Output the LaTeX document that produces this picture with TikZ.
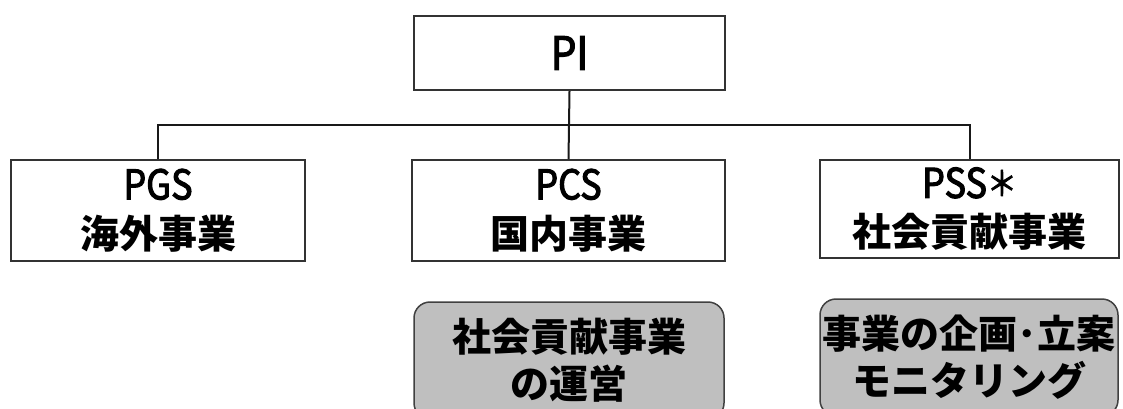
\documentclass[tikz,border=0pt]{standalone}
\usepackage{fontspec}
\newfontfamily\jpfont{Noto Sans CJK JP}
\newfontfamily\latfont[FakeStretch=0.88,FakeBold=2.5]{Noto Sans CJK JP}
\newcommand\latx[2][41pt]{{\latfont\fontsize{#1}{48pt}\selectfont #2}}
\newcommand\jpx[2][39pt]{{\jpfont\bfseries\fontsize{#1}{48pt}\selectfont #2}}
\newcommand\astx{{\latfont\fontsize{34pt}{48pt}\selectfont\raisebox{2pt}{＊}}}
\begin{document}
\begin{tikzpicture}[x=1pt,y=-1pt,
  box/.style={draw=black!80, line width=2pt, fill=white, inner sep=0pt, align=center, font=\fontsize{39pt}{49pt}\selectfont},
  graybox/.style={draw=black!75, line width=1.5pt, fill=black!25, rounded corners=16pt, inner sep=0pt, align=center, font=\fontsize{39pt}{47pt}\selectfont},
  conn/.style={draw=black!90, line width=2pt}]
\useasboundingbox (0,0) rectangle (1123,408);
\node[box, minimum width=311pt, minimum height=74pt] (pi) at (569.5,53) {\latx[46pt]{PI}};
\node[box, minimum width=294pt, minimum height=101pt] (pgs) at (158,210.5) {\latx{PGS}\\\jpx{海外事業}};
\node[box, minimum width=313pt, minimum height=101pt] (pcs) at (568.5,210.5) {\latx{PCS}\\\jpx{国内事業}};
\node[box, minimum width=299pt, minimum height=98pt] (pss) at (969.5,209) {\latx{PSS}\astx\\\jpx{社会貢献事業}};
\coordinate (bus) at (569,125);
\draw[conn] (pi.south) -- (pcs.north);
\draw[conn] (pgs.north) |- (bus) -| (pss.north);
\node[graybox, minimum width=310pt, minimum height=117pt] (g1) at (569,360.5)
  {\jpx{社会貢献事業}\\\jpx{の運営}};
\node[graybox, minimum width=298pt, minimum height=117pt] (g2) at (969,357.5)
  {\jpx{事業の企画･立案}\\\jpx{モニタリング}};
\end{tikzpicture}
\end{document}
